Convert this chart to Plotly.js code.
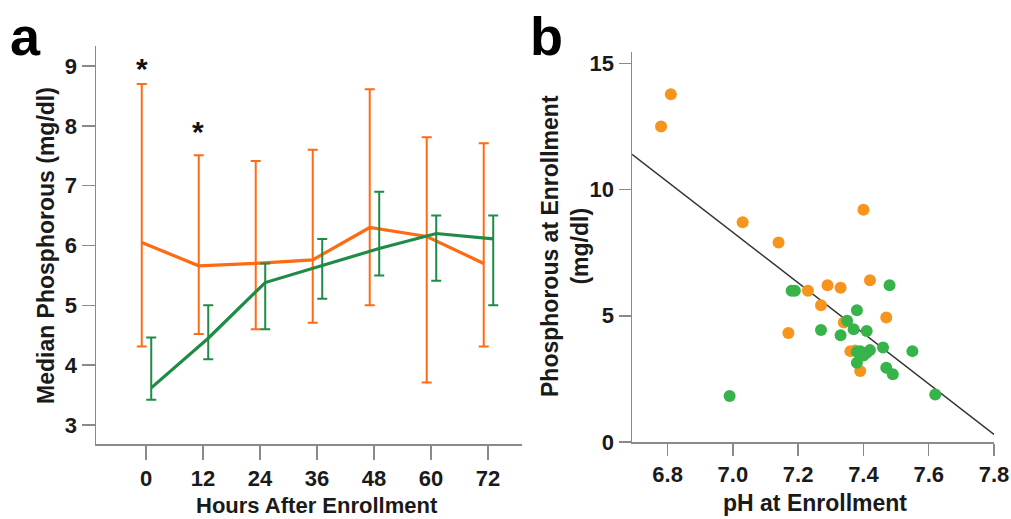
<!DOCTYPE html>
<html>
<head>
<meta charset="utf-8">
<script src="https://cdn.plot.ly/plotly-3.0.1.min.js"></script>
<style>html,body{margin:0;padding:0;background:#fff;}#chart{width:1011px;height:519px;}</style>
</head>
<body>
<div id="chart"></div>
<script>
// ---- Panel a data ----
const hours = [0, 12, 24, 36, 48, 60, 72];
const orangeMedian = [6.05, 5.66, 5.70, 5.76, 6.30, 6.15, 5.70];
const orangeLow    = [4.31, 4.52, 4.60, 4.71, 5.00, 3.71, 4.31];
const orangeHigh   = [8.70, 7.51, 7.41, 7.60, 8.61, 7.81, 7.71];
const greenMedian  = [3.62, 4.45, 5.38, 5.67, 5.95, 6.20, 6.11];
const greenLow     = [3.42, 4.10, 4.60, 5.11, 5.50, 5.41, 5.00];
const greenHigh    = [4.46, 5.00, 5.70, 6.11, 6.90, 6.50, 6.50];
const yTicksA = [3, 4, 5, 6, 7, 8, 9];

// ---- Panel b data ----
const orangePH = [6.78, 6.81, 7.03, 7.14, 7.40, 7.42, 7.29, 7.33, 7.23, 7.27, 7.47, 7.34, 7.17, 7.36, 7.375, 7.39];
const orangeP  = [12.5, 13.78, 8.71, 7.90, 9.20, 6.41, 6.21, 6.11, 5.99, 5.42, 4.93, 4.73, 4.32, 3.60, 3.62, 2.81];
const greenPH  = [6.99, 7.18, 7.19, 7.48, 7.38, 7.35, 7.37, 7.41, 7.27, 7.33, 7.46, 7.55, 7.38, 7.39, 7.41, 7.42, 7.40, 7.38, 7.47, 7.49, 7.62];
const greenP   = [1.82, 5.99, 5.99, 6.21, 5.22, 4.80, 4.47, 4.40, 4.44, 4.23, 3.74, 3.60, 3.57, 3.60, 3.54, 3.64, 3.43, 3.14, 2.94, 2.68, 1.88];
const fitPH = [6.691, 7.8];
const fitP  = [11.40, 0.30];
const xTicksB = [6.8, 7.0, 7.2, 7.4, 7.6, 7.8];
const yTicksB = [0, 5, 10, 15];

const ORANGE_LINE = '#FF6A13';
const GREEN_LINE = '#1E8B47';
const ORANGE_DOT = '#F7941D';
const GREEN_DOT = '#36B44A';
const TXT = '#1a1a1a';
const AX = '#8a8a8a';
const FONT = 'Liberation Sans, Arial, sans-serif';

const offO = -0.9, offG = 1.1;
const traces = [
  {
    x: hours.map(h => h + offO), y: orangeMedian, type: 'scatter', mode: 'lines',
    line: {color: ORANGE_LINE, width: 3.2},
    error_y: {type: 'data', symmetric: false,
      array: orangeHigh.map((v, i) => v - orangeMedian[i]),
      arrayminus: orangeMedian.map((v, i) => v - orangeLow[i]),
      color: ORANGE_LINE, thickness: 2, width: 5},
    xaxis: 'x', yaxis: 'y', showlegend: false, hoverinfo: 'skip'
  },
  {
    x: hours.map(h => h + offG), y: greenMedian, type: 'scatter', mode: 'lines',
    line: {color: GREEN_LINE, width: 3.2},
    error_y: {type: 'data', symmetric: false,
      array: greenHigh.map((v, i) => v - greenMedian[i]),
      arrayminus: greenMedian.map((v, i) => v - greenLow[i]),
      color: GREEN_LINE, thickness: 2, width: 5},
    xaxis: 'x', yaxis: 'y', showlegend: false, hoverinfo: 'skip'
  },
  {
    x: fitPH, y: fitP, type: 'scatter', mode: 'lines',
    line: {color: '#333333', width: 1.5},
    xaxis: 'x2', yaxis: 'y2', showlegend: false, hoverinfo: 'skip'
  },
  {
    x: orangePH, y: orangeP, type: 'scatter', mode: 'markers',
    marker: {color: ORANGE_DOT, size: 12},
    xaxis: 'x2', yaxis: 'y2', showlegend: false
  },
  {
    x: greenPH, y: greenP, type: 'scatter', mode: 'markers',
    marker: {color: GREEN_DOT, size: 12},
    xaxis: 'x2', yaxis: 'y2', showlegend: false
  }
];

const tickFont = {family: FONT, size: 22, color: TXT, weight: 'bold'};
const baseAxis = {
  showgrid: false, zeroline: false, showline: true, linecolor: AX, linewidth: 1.5,
  ticks: 'outside', tickcolor: AX, tickwidth: 1.5, tickfont: tickFont, fixedrange: true
};

function ann(text, x, y, size, extra) {
  return Object.assign({text: text, xref: 'paper', yref: 'paper', x: x/1011, y: 1 - y/519,
    xanchor: 'center', yanchor: 'middle', showarrow: false,
    font: {family: FONT, size: size, color: TXT, weight: 'bold'}}, extra || {});
}

const layout = {
  width: 1011, height: 519,
  margin: {l: 0, r: 0, t: 0, b: 0},
  paper_bgcolor: '#ffffff', plot_bgcolor: '#ffffff',
  font: {family: FONT, color: TXT},
  xaxis: Object.assign({}, baseAxis, {
    domain: [96/1011, 522/1011], range: [-10.53, 79.16],
    tickmode: 'array', tickvals: hours, ticktext: hours.map(String), ticklen: 14, anchor: 'y'
  }),
  yaxis: Object.assign({}, baseAxis, {
    domain: [1 - 444/519, 1 - 46/519], range: [2.682, 9.334],
    tickmode: 'array', tickvals: yTicksA, ticklen: 13, anchor: 'x'
  }),
  xaxis2: Object.assign({}, baseAxis, {
    domain: [632/1011, 994/1011], range: [6.691, 7.8],
    tickmode: 'array', tickvals: xTicksB, ticktext: xTicksB.map(v => v.toFixed(1)), ticklen: 12, anchor: 'y2'
  }),
  yaxis2: Object.assign({}, baseAxis, {
    domain: [1 - 442/519, 1 - 52/519], range: [0, 15.45],
    tickmode: 'array', tickvals: yTicksB, ticklen: 12, anchor: 'x2'
  }),
  annotations: [
    ann('a', 25, 36, 54, {font: {family: FONT, size: 54, color: '#000', weight: 'bold'}}),
    ann('b', 546, 36, 54, {font: {family: FONT, size: 54, color: '#000', weight: 'bold'}}),
    {text: '*', xref: 'x', yref: 'y', x: -0.9, y: 8.95, showarrow: false, xanchor: 'center', yanchor: 'middle',
     font: {family: FONT, size: 30, color: '#111', weight: 'bold'}},
    {text: '*', xref: 'x', yref: 'y', x: 11.0, y: 7.9, showarrow: false, xanchor: 'center', yanchor: 'middle',
     font: {family: FONT, size: 30, color: '#111', weight: 'bold'}},
    ann('Median Phosphorous (mg/dl)', 46, 246, 23, {textangle: -90}),
    ann('Hours After Enrollment', 317, 505, 22),
    ann('Phosphorous at Enrollment<br>(mg/dl)', 565, 246, 23, {textangle: -90}),
    ann('pH at Enrollment', 815, 503, 23)
  ]
};

Plotly.newPlot('chart', traces, layout, {displayModeBar: false, staticPlot: true});
</script>
</body>
</html>
